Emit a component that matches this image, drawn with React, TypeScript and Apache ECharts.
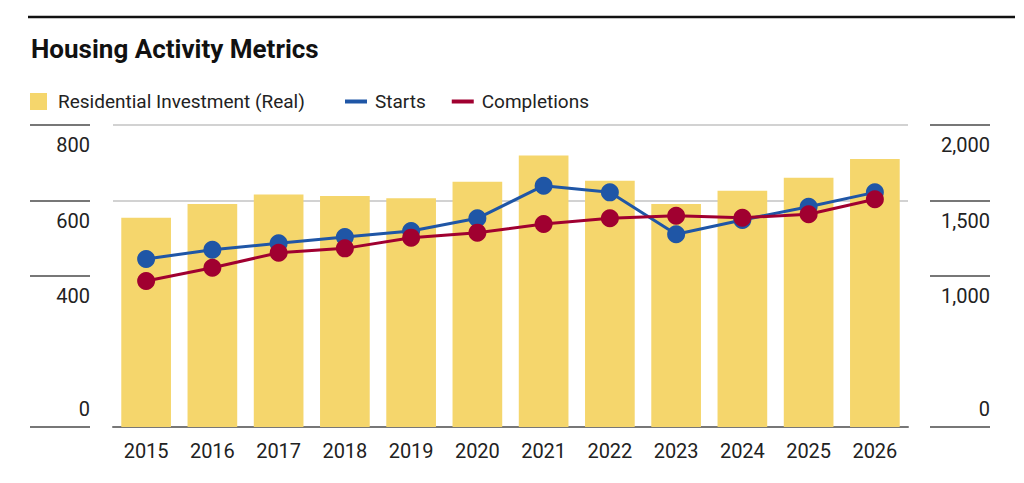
import React, { useEffect, useRef } from "react";
import * as echarts from "echarts";

const years = ["2015", "2016", "2017", "2018", "2019", "2020", "2021", "2022", "2023", "2024", "2025", "2026"];
const investment = [554, 591, 616, 612, 606, 650, 719, 652, 591, 626, 660, 710];
const starts = [1113, 1174, 1217, 1258, 1298, 1382, 1598, 1554, 1276, 1371, 1459, 1554];
const completions = [967, 1055, 1154, 1183, 1254, 1287, 1344, 1382, 1399, 1386, 1409, 1508];
const leftTicks = [0, 400, 600, 800];
const rightTicks = [0, 1000, 1500, 2000];

const FONT = "Roboto, 'Liberation Sans', sans-serif";
const BAR = "#F5D66C";
const BLUE = "#1F56A6";
const RED = "#A00030";
const TXT = "#222";

const fmt = (v: number) => v.toLocaleString("en-US");

export default function App() {
  const ref = useRef<HTMLDivElement>(null);
  useEffect(() => {
    if (!ref.current) return;
    const chart = echarts.init(ref.current, undefined, { renderer: "svg" });
    const labelBase = { fontFamily: FONT, fontSize: 20, color: TXT };
    const legendText = { fontFamily: FONT, fontSize: 19, color: TXT };
    chart.setOption({
      animation: false,
      backgroundColor: "#fff",
      title: {
        text: "Housing Activity Metrics",
        left: 26,
        top: 31,
        textStyle: { fontFamily: FONT, fontSize: 26, fontWeight: "bold", color: "#111" },
      },
      graphic: [
        { type: "line", shape: { x1: 28, y1: 17, x2: 1015, y2: 17 }, style: { stroke: "#111", lineWidth: 2.5 } },
      ],
      legend: [
        {
          data: [{ name: "Residential Investment (Real)", icon: "rect" }],
          left: 30,
          top: 92,
          padding: 0,
          itemWidth: 17,
          itemHeight: 17,
          textStyle: { ...legendText, padding: [0, 0, 0, 6] },
        },
        {
          data: [
            { name: "Starts", icon: "rect" },
            { name: "Completions", icon: "rect" },
          ],
          left: 345,
          top: 92,
          padding: 0,
          itemWidth: 22,
          itemHeight: 4,
          itemGap: 26,
          textStyle: { ...legendText, padding: [0, 0, 0, 3] },
        },
      ],
      grid: { left: 113, right: 116, top: 125, bottom: 56, containLabel: false },
      xAxis: {
        type: "category",
        data: years,
        axisLine: { lineStyle: { color: "#777", width: 2 } },
        axisTick: { show: false },
        axisLabel: { ...labelBase, interval: 0, margin: 14 },
      },
      yAxis: [
        {
          type: "value",
          position: "left",
          min: 0,
          max: 800,
          interval: 200,
          offset: 23,
          axisLine: { show: false },
          axisTick: { show: true, length: 60, customValues: leftTicks, lineStyle: { color: "#777", width: 2 } },
          axisLabel: { ...labelBase, customValues: [400, 600, 800], margin: 0, verticalAlign: "top", padding: [10, 0, 0, 0] },
          splitLine: {
            show: true,
            lineStyle: { color: ["rgba(0,0,0,0)", "rgba(0,0,0,0)", "#d2d2d2", "#d2d2d2", "#6f6f6f"], width: 2 },
          },
        },
        {
          type: "value",
          position: "left",
          min: 0,
          max: 800,
          interval: 200,
          offset: 23,
          axisLine: { show: false },
          axisTick: { show: false },
          splitLine: { show: false },
          axisLabel: { ...labelBase, customValues: [0], margin: 0, verticalAlign: "bottom", padding: [0, 0, 8, 0] },
        },
        {
          type: "value",
          position: "right",
          min: 0,
          max: 2000,
          interval: 500,
          offset: 22,
          axisLine: { show: false },
          axisTick: { show: true, length: 60, customValues: rightTicks, lineStyle: { color: "#777", width: 2 } },
          axisLabel: {
            ...labelBase,
            customValues: [1000, 1500, 2000],
            margin: 60,
            align: "right",
            verticalAlign: "top",
            padding: [10, 0, 0, 0],
            formatter: (v: number) => fmt(v),
          },
          splitLine: { show: false },
        },
        {
          type: "value",
          position: "right",
          min: 0,
          max: 2000,
          interval: 500,
          offset: 22,
          axisLine: { show: false },
          axisTick: { show: false },
          splitLine: { show: false },
          axisLabel: {
            ...labelBase,
            customValues: [0],
            margin: 60,
            align: "right",
            verticalAlign: "bottom",
            padding: [0, 0, 8, 0],
            formatter: (v: number) => fmt(v),
          },
        },
      ],
      series: [
        {
          name: "Residential Investment (Real)",
          type: "bar",
          yAxisIndex: 0,
          data: investment,
          barWidth: "75%",
          itemStyle: { color: BAR },
        },
        {
          name: "Starts",
          type: "line",
          yAxisIndex: 2,
          data: starts,
          symbol: "circle",
          symbolSize: 18,
          lineStyle: { color: BLUE, width: 3 },
          itemStyle: { color: BLUE },
        },
        {
          name: "Completions",
          type: "line",
          yAxisIndex: 2,
          data: completions,
          symbol: "circle",
          symbolSize: 18,
          lineStyle: { color: RED, width: 3 },
          itemStyle: { color: RED },
        },
      ],
    });
    return () => chart.dispose();
  }, []);
  return <div ref={ref} style={{ position: "fixed", left: 0, top: 0, width: 1024, height: 483 }} />;
}
